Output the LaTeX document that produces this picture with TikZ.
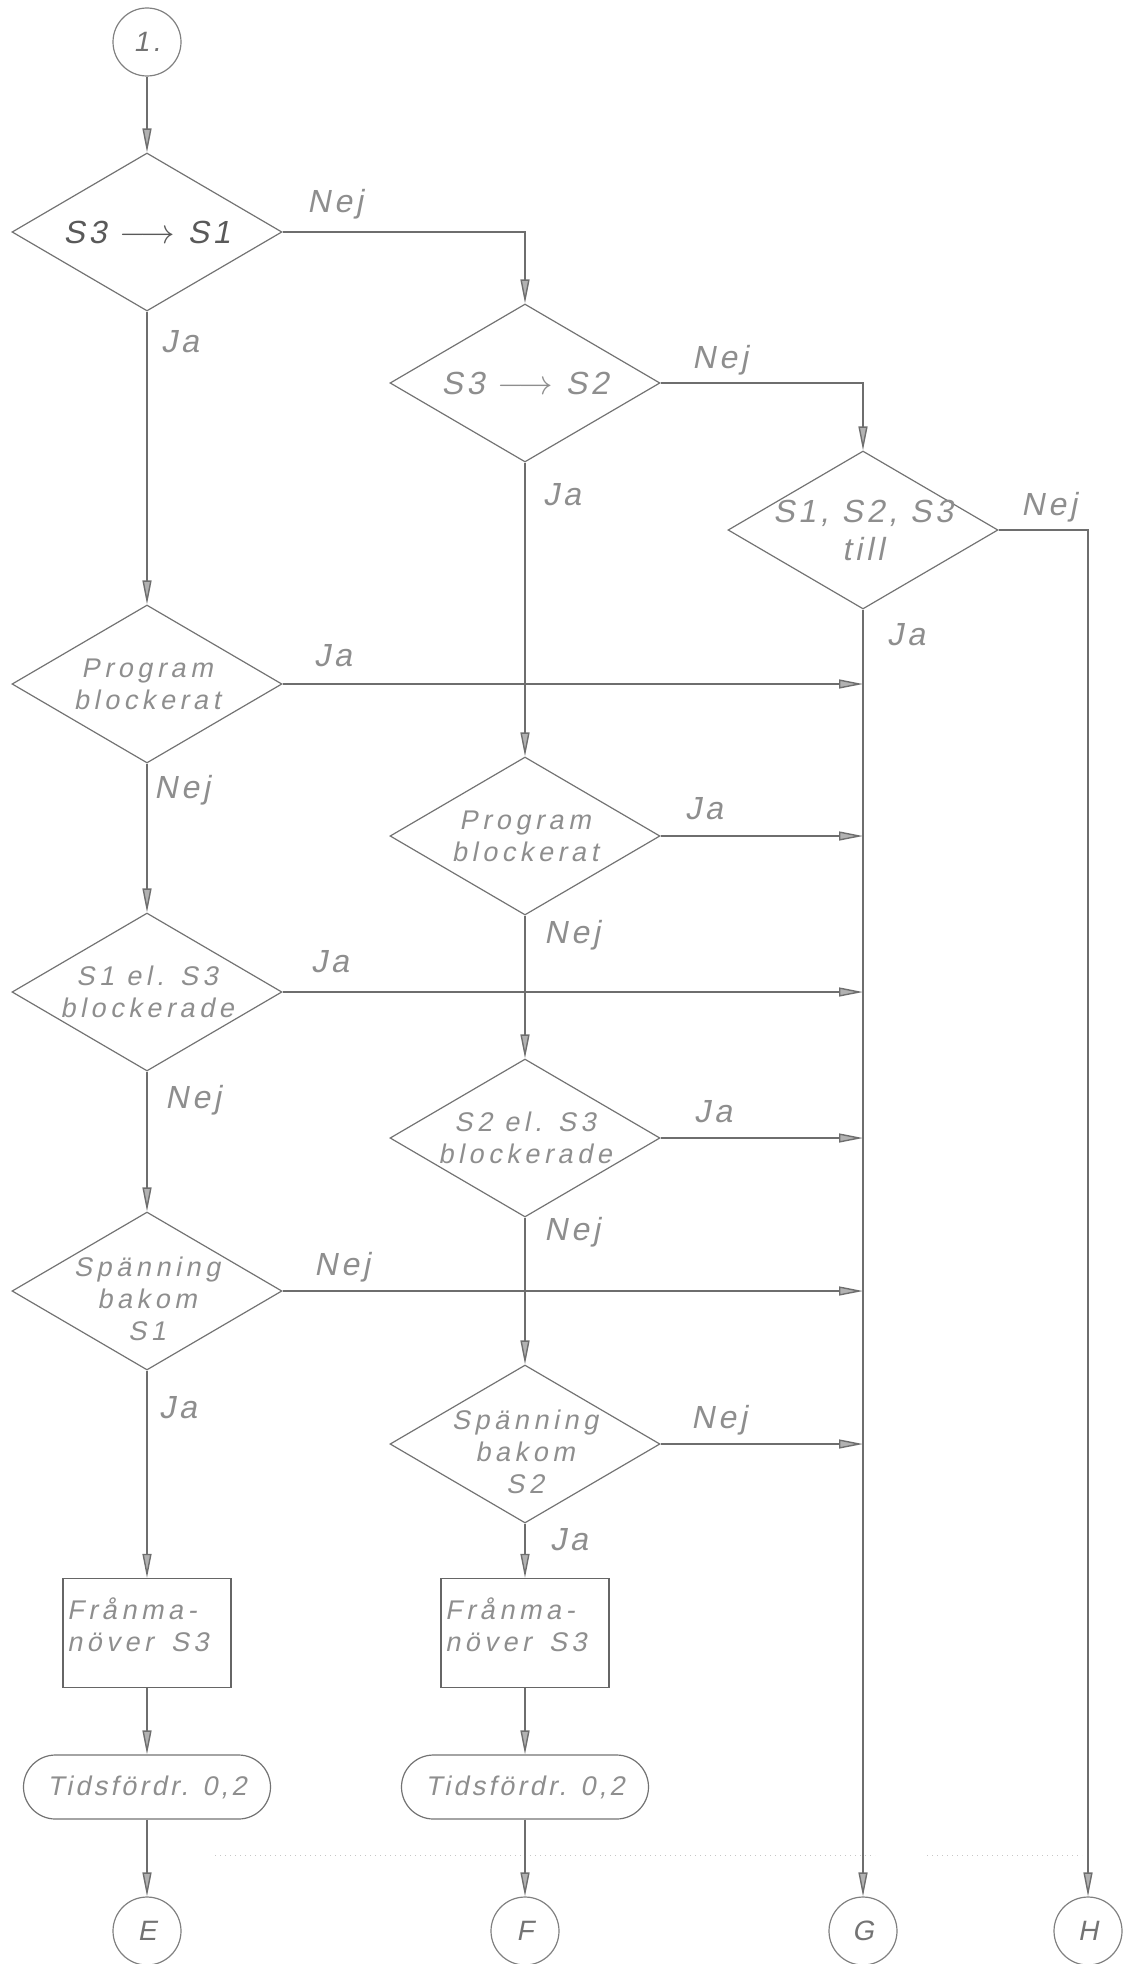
\documentclass[tikz,border=0pt]{standalone}
\usepackage{fontspec}
\newfontfamily\hand[FakeSlant=0.2,LetterSpace=12]{Liberation Sans}
\newfontfamily\handw[FakeSlant=0.2,LetterSpace=17]{Liberation Sans}
\usetikzlibrary{arrows.meta,shapes.geometric,shapes.misc}
\definecolor{ln}{HTML}{6E6E6E}
\definecolor{tx}{HTML}{8E8E8E}
\begin{document}
\begin{tikzpicture}[x=0.5pt,y=-0.5pt,
  conn/.style={draw=ln, line width=0.7pt},
  arr/.style={conn, -{Triangle[length=12pt,width=4.5pt,fill=black!30]}},
  dia/.style={draw=black!55, line width=0.6pt, diamond, minimum width=135pt, minimum height=79pt, inner sep=0pt},
  txt/.style={font=\handw\fontsize{13.5}{16}\selectfont, text=tx, align=center},
  bigtxt/.style={font=\hand\fontsize{16}{19}\selectfont, text=tx, align=center},
  lab/.style={font=\hand\fontsize{16}{19}\selectfont, text=tx},
  procbox/.style={draw=black!60, line width=0.7pt, rectangle, minimum width=84pt, minimum height=54.5pt, inner sep=0pt},
  pill/.style={draw=black!55, line width=0.6pt, rounded rectangle, minimum width=123.5pt, minimum height=32pt, inner sep=0pt},
  conncirc/.style={draw=black!50, line width=0.6pt, circle, minimum size=34pt, inner sep=0pt, font=\hand\fontsize{14}{16}\selectfont, text=black!55},
]
\path[use as bounding box] (0,0) rectangle (1138,1964);

% connector circle at top
\node[conncirc] (c1) at (147,42) {1.};

% decisions
\node[dia, label={[bigtxt, text=black!65]center:{S3 $\longrightarrow$ S1}}] (d1) at (147,232) {};
\node[dia, label={[bigtxt]center:{S3 $\longrightarrow$ S2}}] (d2) at (525,383) {};
\node[dia, label={[bigtxt]center:{S1, S2, S3\\till}}] (d3) at (863,530) {};
\node[dia, label={[txt]center:{Program\\blockerat}}] (d4) at (147,684) {};
\node[dia, label={[txt]center:{S1 el. S3\\blockerade}}] (d5) at (147,992) {};
\node[dia, label={[txt]center:{Program\\blockerat}}] (d6) at (525,836) {};
\node[dia, label={[txt]center:{S2 el. S3\\blockerade}}] (d7) at (525,1138) {};
\node[dia, label={[txt, yshift=-4pt]center:{Spänning\\bakom\\S1}}] (d8) at (147,1291) {};
\node[dia, label={[txt, yshift=-4pt]center:{Spänning\\bakom\\S2}}] (d9) at (525,1444) {};

% process boxes
\node[procbox, label={[txt, align=left, text width=80pt, yshift=4pt]center:{Frånma-\\növer~~S3}}] (b1) at (147,1633) {};
\node[procbox, label={[txt, align=left, text width=80pt, yshift=4pt]center:{Frånma-\\növer~~S3}}] (b2) at (525,1633) {};

% delay pills
\node[pill, txt, font=\hand\fontsize{13.5}{16}\selectfont] (p1) at (147,1787) {Tidsfördr. 0,2};
\node[pill, txt, font=\hand\fontsize{13.5}{16}\selectfont] (p2) at (525,1787) {Tidsfördr. 0,2};

% exit connectors
\node[conncirc] (E) at (147,1931) {E};
\node[conncirc] (F) at (525,1931) {F};
\node[conncirc] (G) at (863,1931) {G};
\node[conncirc] (H) at (1088,1931) {H};

% faint trace line
\draw[black!22, dotted, line width=0.5pt] (215,1855) -- (875,1855);
\draw[black!22, dotted, line width=0.5pt] (927,1855) -- (1082,1855);

% main flow
\draw[arr] (c1.south) -- (d1.north);
\draw[arr] (d1.east) -| (d2.north);
\draw[arr] (d2.east) -| (d3.north);
\draw[arr] (d3.east) -| (H.north);
\draw[arr] (d3.south) -- (G.north);

\draw[arr] (d1.south) -- (d4.north);
\draw[arr] (d4.south) -- (d5.north);
\draw[arr] (d5.south) -- (d8.north);
\draw[arr] (d8.south) -- (b1.north);
\draw[arr] (b1.south) -- (p1.north);
\draw[arr] (p1.south) -- (E.north);

\draw[arr] (d2.south) -- (d6.north);
\draw[arr] (d6.south) -- (d7.north);
\draw[arr] (d7.south) -- (d9.north);
\draw[arr] (d9.south) -- (b2.north);
\draw[arr] (b2.south) -- (p2.north);
\draw[arr] (p2.south) -- (F.north);

% branches into the G line
\draw[arr] (d4.east) -- (d4.east -| d3.south);
\draw[arr] (d6.east) -- (d6.east -| d3.south);
\draw[arr] (d5.east) -- (d5.east -| d3.south);
\draw[arr] (d7.east) -- (d7.east -| d3.south);
\draw[arr] (d8.east) -- (d8.east -| d3.south);
\draw[arr] (d9.east) -- (d9.east -| d3.south);

% branch labels
\node[lab] (l1) at (335,204) {Nej};
\node[lab] (l2) at (180,342) {Ja};
\node[lab] (l3) at (720,360) {Nej};
\node[lab] (l4) at (562,495) {Ja};
\node[lab] (l5) at (1049,507) {Nej};
\node[lab] (l6) at (906,635) {Ja};
\node[lab] (l7) at (333,656) {Ja};
\node[lab] (l8) at (182,790) {Nej};
\node[lab] (l9) at (704,809) {Ja};
\node[lab] (l10) at (572,935) {Nej};
\node[lab] (l11) at (330,962) {Ja};
\node[lab] (l12) at (193,1100) {Nej};
\node[lab] (l13) at (713,1112) {Ja};
\node[lab] (l14) at (572,1232) {Nej};
\node[lab] (l15) at (342,1267) {Nej};
\node[lab] (l16) at (719,1420) {Nej};
\node[lab] (l17) at (178,1408) {Ja};
\node[lab] (l18) at (569,1540) {Ja};
\end{tikzpicture}
\end{document}
